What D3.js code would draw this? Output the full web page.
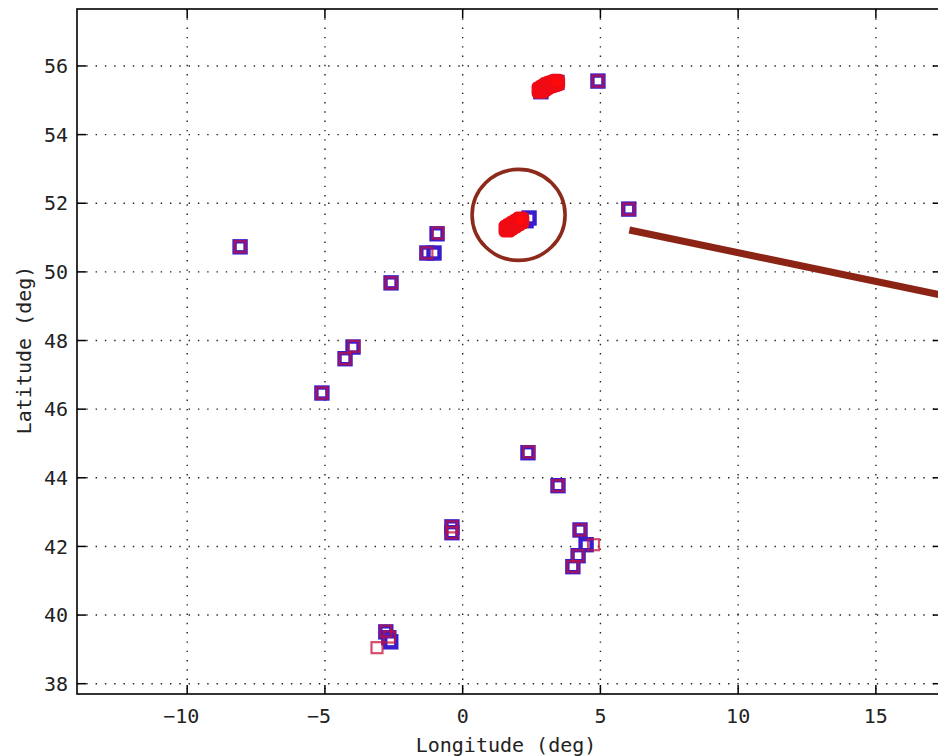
<!DOCTYPE html>
<html><head><meta charset="utf-8">
<script src="https://cdn.jsdelivr.net/npm/d3@7"></script>
<style>body{margin:0;background:#fff;overflow:hidden}svg{display:block}</style>
</head><body>
<svg id="c" width="938" height="756"></svg>
<script>
// Blue series (station squares)
const blueLon = [-8.08, 4.91, 6.03, -0.93, -1.30, -1.04, -2.60, -3.98, -4.27, -5.11, 2.37, 3.46, -0.39, -0.39, 4.26, 4.48, 4.19, 4.00, -2.79, -2.68, -2.61, 2.84, 3.42, 2.30, 2.41];
const blueLat = [50.73, 55.56, 51.83, 51.11, 50.55, 50.55, 49.68, 47.81, 47.47, 46.47, 44.73, 43.77, 42.57, 42.40, 42.48, 42.05, 41.73, 41.41, 39.51, 39.34, 39.22, 55.25, 55.52, 51.49, 51.57];
// Red series (estimated squares)
const redLon = [-8.08, 4.91, 6.03, -0.90, -1.30, -2.60, -3.95, -4.27, -5.11, 2.40, 3.46, -0.39, -0.39, 4.26, 4.75, 4.19, 4.00, -2.79, -2.66, -3.11];
const redLat = [50.73, 55.56, 51.83, 51.13, 50.55, 49.68, 47.83, 47.47, 46.47, 44.75, 43.77, 42.57, 42.40, 42.48, 42.05, 41.73, 41.41, 39.53, 39.36, 39.05];
// Red filled clusters
const clusterLon = [2.82, 2.94, 3.06, 3.18, 3.30, 3.40, 1.62, 1.74, 1.86, 1.98, 2.10];
const clusterLat = [55.30, 55.36, 55.42, 55.46, 55.49, 55.52, 51.26, 51.32, 51.38, 51.44, 51.50];
// Tick labels
const xTicks = [-10, -5, 0, 5, 10, 15];
const yTicks = [38, 40, 42, 44, 46, 48, 50, 52, 54, 56];
// Annotation (circle centre, pointer line ends)
const circleLon = [2.03], circleLat = [51.66];
const arrowLon = [6.05, 17.4], arrowLat = [51.22, 49.32];

const svg = d3.select("#c");
const L = 77, R = 942, T = 9, B = 694;
const x = d3.scaleLinear().domain([-14, 17.4]).range([L, R]);
const y = d3.scaleLinear().domain([37.7, 57.66]).range([B, T]);
const font = "'DejaVu Sans Mono', monospace";

// grid
const g = svg.append("g");
g.selectAll(".gx").data(xTicks).enter().append("line")
  .attr("x1", d => x(d)).attr("x2", d => x(d)).attr("y1", T).attr("y2", B)
  .attr("stroke", "#222").attr("stroke-width", 1.4).attr("stroke-dasharray", "1.4,7.9");
g.selectAll(".gy").data(yTicks).enter().append("line")
  .attr("y1", d => y(d)).attr("y2", d => y(d)).attr("x1", L).attr("x2", R)
  .attr("stroke", "#222").attr("stroke-width", 1.4).attr("stroke-dasharray", "1.4,7.9");

// axes (inside ticks, box)
const tl = 9;
const ax = svg.append("g").attr("stroke", "#000").attr("stroke-width", 1.5);
xTicks.forEach(d => {
  ax.append("line").attr("x1", x(d)).attr("x2", x(d)).attr("y1", B).attr("y2", B - tl);
  ax.append("line").attr("x1", x(d)).attr("x2", x(d)).attr("y1", T).attr("y2", T + tl);
});
yTicks.forEach(d => {
  ax.append("line").attr("y1", y(d)).attr("y2", y(d)).attr("x1", L).attr("x2", L + tl);
  ax.append("line").attr("y1", y(d)).attr("y2", y(d)).attr("x1", R).attr("x2", R - tl);
});
svg.append("rect").attr("x", L).attr("y", T).attr("width", R - L).attr("height", B - T)
  .attr("fill", "none").attr("stroke", "#000").attr("stroke-width", 1.6);

// tick labels
svg.append("g").selectAll("text").data(xTicks).enter().append("text")
  .attr("x", d => x(d) + (d < 0 ? -6 : 0)).attr("y", 723).attr("text-anchor", "middle")
  .attr("font-family", font).attr("font-size", 20).attr("fill", "#222")
  .text(d => d < 0 ? "\u2212" + Math.abs(d) : d);
svg.append("g").selectAll("text").data(yTicks).enter().append("text")
  .attr("x", 68).attr("y", d => y(d)).attr("dy", "0.36em").attr("text-anchor", "end")
  .attr("font-family", font).attr("font-size", 20).attr("fill", "#222")
  .text(d => d);

// axis labels
svg.append("text").attr("x", 506).attr("y", 752).attr("text-anchor", "middle")
  .attr("font-family", font).attr("font-size", 20).attr("fill", "#222").text("Longitude (deg)");
svg.append("text").attr("transform", "translate(31,350) rotate(-90)").attr("text-anchor", "middle")
  .attr("font-family", font).attr("font-size", 20).attr("fill", "#222").text("Latitude (deg)");

// markers
const s = 11;
const blue = d3.range(blueLon.length).map(i => [blueLon[i], blueLat[i]]);
const red = d3.range(redLon.length).map(i => [redLon[i], redLat[i]]);
const cl = d3.range(clusterLon.length).map(i => [clusterLon[i], clusterLat[i]]);
svg.append("g").selectAll("rect").data(blue).enter().append("rect")
  .attr("x", d => x(d[0]) - s / 2).attr("y", d => y(d[1]) - s / 2).attr("width", s).attr("height", s)
  .attr("fill", "#fff").attr("stroke", "#3a1ccc").attr("stroke-width", 4.4);
svg.append("g").selectAll("rect").data(red).enter().append("rect")
  .attr("x", d => x(d[0]) - s / 2).attr("y", d => y(d[1]) - s / 2).attr("width", s).attr("height", s)
  .attr("fill", "none").attr("stroke", "#c8103a").attr("stroke-opacity", 0.75).attr("stroke-width", 2.2);
const cs = 13;
svg.append("g").selectAll("rect").data(cl).enter().append("rect")
  .attr("x", d => x(d[0]) - cs / 2).attr("y", d => y(d[1]) - cs / 2).attr("width", cs).attr("height", cs)
  .attr("rx", 3).attr("fill", "#ff0a0a").attr("stroke", "#f00a14").attr("stroke-width", 4.6);

// annotation
svg.append("ellipse").attr("cx", x(circleLon[0])).attr("cy", y(circleLat[0]))
  .attr("rx", 46.5).attr("ry", 45.5).attr("fill", "none").attr("stroke", "#8c2a1c").attr("stroke-width", 3.6);
svg.append("line").attr("x1", x(arrowLon[0])).attr("y1", y(arrowLat[0]))
  .attr("x2", x(arrowLon[1])).attr("y2", y(arrowLat[1]))
  .attr("stroke", "#8c2416").attr("stroke-width", 7);
</script>
</body></html>
